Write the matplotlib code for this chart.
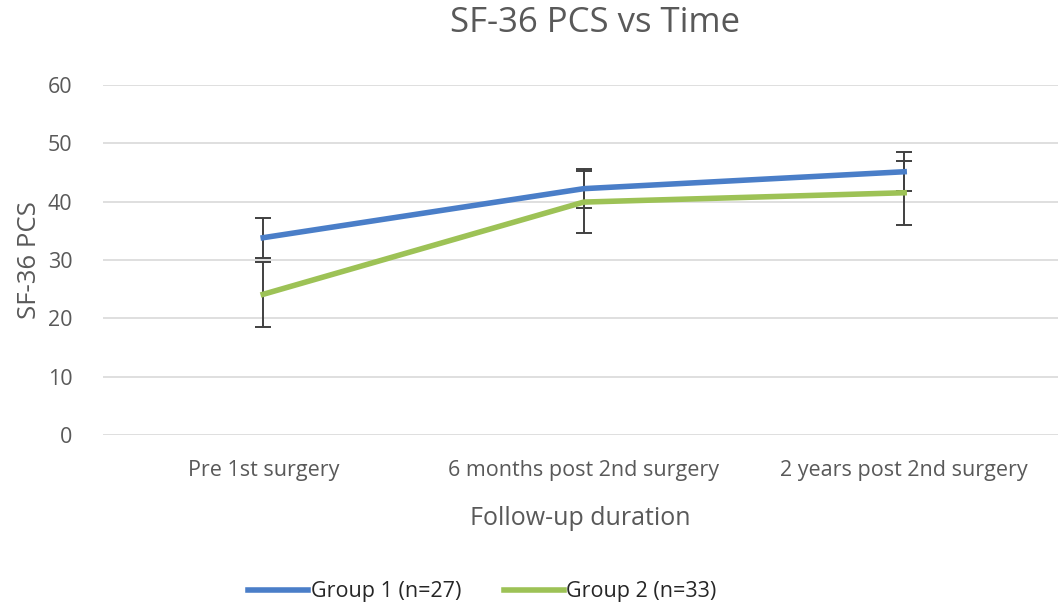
import matplotlib.pyplot as plt
from matplotlib.lines import Line2D
import numpy as np

plt.rcParams['font.family'] = ['Open Sans', 'DejaVu Sans']

categories = ['Pre 1st surgery', '6 months post 2nd surgery', '2 years post 2nd surgery']
group1 = [33.8, 42.2, 45.1]
group1_err = [3.4, 3.3, 3.3]
group2 = [24.1, 39.9, 41.5]
group2_err = [5.6, 5.3, 5.5]

txt = '#595959'
blue = '#4A7EC8'
green = '#9DC256'
fig = plt.figure(figsize=(10.58, 6.10), dpi=100)
ax = fig.add_axes([103/1058, 0.287, 955/1058, 0.574])

x = np.arange(len(categories))
ax.errorbar(x, group1, yerr=group1_err, color=blue, lw=4, ecolor='#404040',
            elinewidth=1.4, capsize=6, capthick=1.4, zorder=3)
ax.errorbar(x, group2, yerr=group2_err, color=green, lw=4, ecolor='#404040',
            elinewidth=1.4, capsize=6, capthick=1.4, zorder=3)

ax.set_ylim(0, 60)
ax.set_xlim(-0.5, 2.48)
ax.set_yticks(range(0, 61, 10))
ax.set_xticks(x)
ax.set_xticklabels(categories)
ax.yaxis.grid(True, color='#D9D9D9', lw=1.2)
ax.set_axisbelow(True)
for s in ax.spines.values():
    s.set_visible(False)
ax.tick_params(length=0, labelsize=15.5, colors=txt)
ax.tick_params(axis='y', pad=22)
ax.tick_params(axis='x', pad=18)

ax.set_ylabel('SF-36 PCS', fontsize=18.5, color=txt, labelpad=4)
ax.set_xlabel('Follow-up duration', fontsize=18, color=txt, labelpad=18)
fig.suptitle('SF-36 PCS vs Time', fontsize=25, color=txt, x=0.562, y=0.99)

handles = [Line2D([], [], color=blue, lw=4), Line2D([], [], color=green, lw=4)]
labels = ['Group 1 (n=27)', 'Group 2 (n=33)']
leg = fig.legend(handles, labels, loc='center', bbox_to_anchor=(0.456, 0.03), ncol=2,
                 frameon=False, fontsize=15.5, handlelength=2.8, handletextpad=0.1,
                 columnspacing=2.0)
for t in leg.get_texts():
    t.set_color('#262626')

fig.savefig('out.png', dpi=100)
